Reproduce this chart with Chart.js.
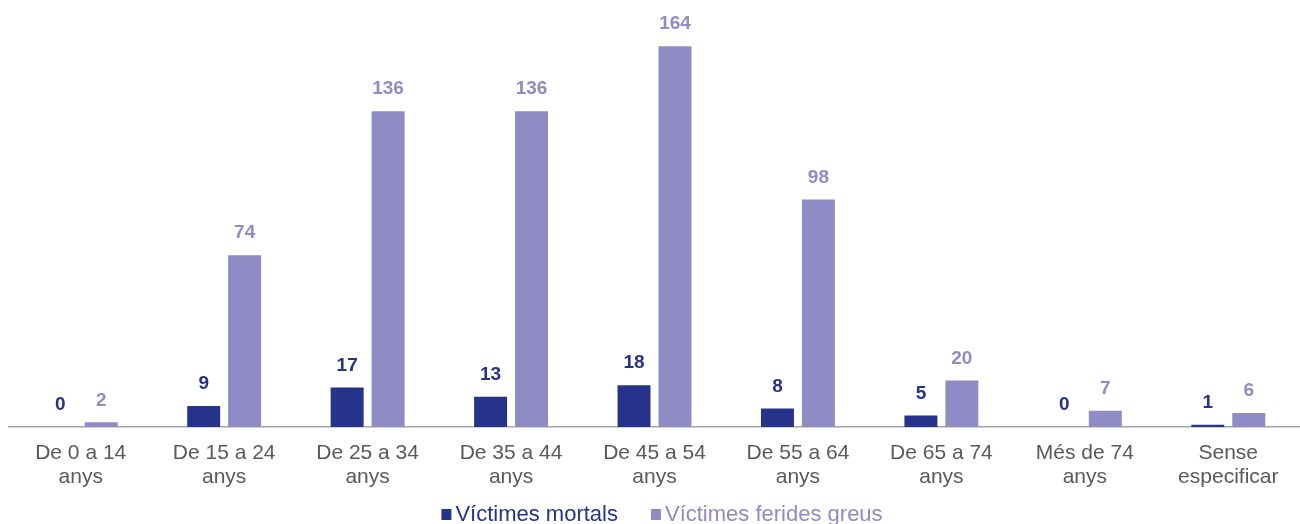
<!DOCTYPE html>
<html>
<head>
<meta charset="utf-8">
<script src="https://cdn.jsdelivr.net/npm/chart.js@4/dist/chart.umd.min.js"></script>
<style>
html,body{margin:0;padding:0;background:#fff;}
#wrap{width:1300px;height:524px;}
</style>
</head>
<body>
<div id="wrap"><canvas id="c" width="1300" height="524"></canvas></div>
<script>
const categories = [
  ['De 0 a 14', 'anys'],
  ['De 15 a 24', 'anys'],
  ['De 25 a 34', 'anys'],
  ['De 35 a 44', 'anys'],
  ['De 45 a 54', 'anys'],
  ['De 55 a 64', 'anys'],
  ['De 65 a 74', 'anys'],
  ['Més de 74', 'anys'],
  ['Sense', 'especificar']
];
const seriesNames = ['Víctimes mortals', 'Víctimes ferides greus'];
const mortals = [0, 9, 17, 13, 18, 8, 5, 0, 1];
const ferides = [2, 74, 136, 136, 164, 98, 20, 7, 6];
const colors = ['#26338a', '#8f8bc4'];
const labelColors = ['#26338a', '#8f8bc4'];
const FONT = '"Liberation Sans", Arial, sans-serif';

const valueLabels = {
  id: 'valueLabels',
  afterDatasetsDraw(chart) {
    const ctx = chart.ctx;
    ctx.save();
    ctx.font = 'bold 19px ' + FONT;
    ctx.textAlign = 'center';
    ctx.textBaseline = 'middle';
    chart.data.datasets.forEach((ds, di) => {
      const meta = chart.getDatasetMeta(di);
      ctx.fillStyle = labelColors[di];
      meta.data.forEach((el, i) => {
        ctx.fillText(String(ds.data[i]), el.x, el.y - 22);
      });
    });
    ctx.restore();
  }
};

const bottomLegend = {
  id: 'bottomLegend',
  afterDraw(chart) {
    const ctx = chart.ctx;
    ctx.save();
    ctx.font = '22px ' + FONT;
    ctx.textBaseline = 'middle';
    ctx.textAlign = 'left';
    const box = 10, gapText = 4, gapItem = 33;
    const items = chart.data.datasets.map((ds, i) => ({
      text: ds.label, color: colors[i], fc: labelColors[i],
      w: box + gapText + ctx.measureText(ds.label).width
    }));
    const total = items.reduce((s, it) => s + it.w, 0) + gapItem * (items.length - 1);
    let x = 662 - total / 2;
    const yc = 514;
    items.forEach(it => {
      ctx.fillStyle = it.color;
      ctx.fillRect(x, yc - 5, box, 11);
      ctx.fillStyle = it.fc;
      ctx.fillText(it.text, x + box + gapText, yc + 1);
      x += it.w + gapItem;
    });
    ctx.restore();
  }
};

new Chart(document.getElementById('c'), {
  type: 'bar',
  data: {
    labels: categories,
    datasets: [
      { label: seriesNames[0], data: mortals, backgroundColor: colors[0] },
      { label: seriesNames[1], data: ferides, backgroundColor: colors[1] }
    ]
  },
  options: {
    responsive: false,
    animation: false,
    devicePixelRatio: 1,
    layout: { padding: { left: 9, right: -5, top: 9, bottom: 21 } },
    datasets: { bar: { categoryPercentage: 0.571, barPercentage: 0.805 } },
    scales: {
      x: {
        grid: { display: false, drawTicks: false },
        border: { display: true, color: '#a6a6a6', width: 1.5 },
        ticks: {
          color: '#595959',
          padding: 14,
          maxRotation: 0,
          autoSkip: false,
          font: { family: FONT, size: 21, lineHeight: 1.143 }
        }
      },
      y: { display: false, min: 0, max: 180 }
    },
    plugins: {
      tooltip: { enabled: false },
      legend: { display: false }
    }
  },
  plugins: [valueLabels, bottomLegend]
});
</script>
</body>
</html>
